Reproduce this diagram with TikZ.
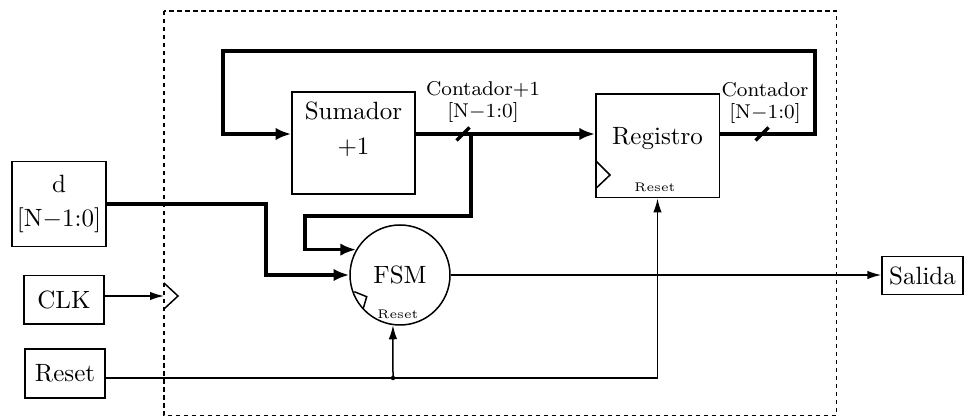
\documentclass[tikz,border=0pt]{standalone}
\usetikzlibrary{arrows.meta}
\begin{document}
\begin{tikzpicture}[x=0.4pt,y=-0.4pt,
  wire/.style={line width=0.6pt},
  bus/.style={line width=1.3pt},
  tip/.style={-{Latex[length=5.6pt,width=3.4pt]}},
  btip/.style={-{Latex[length=6.3pt,width=5pt]}},
  blk/.style={draw,line width=0.6pt,inner sep=0pt,align=center},
  lbl/.style={font=\fontsize{8}{8.8}\selectfont,align=center,inner sep=0pt},
  rstlbl/.style={font=\tiny,inner sep=0pt}]
\useasboundingbox (0,0) rectangle (965,417);
% dashed boundary
\draw[line width=0.5pt,dash pattern=on 1.8pt off 1.4pt] (164,11) rectangle (836.5,415.5);
% blocks
\node[blk,minimum width=37.6pt,minimum height=34pt,font=\fontsize{10}{13.6}\selectfont] (d) at (59,204) {d\\{}[N$-$1:0]};
\node[blk,minimum width=32pt,minimum height=19.4pt] (clk) at (64,300) {CLK};
\node[blk,minimum width=32pt,minimum height=19.6pt] (rst) at (65,373.5) {Reset};
\node[blk,minimum width=49.2pt,minimum height=40.8pt,font=\fontsize{10}{14}\selectfont,text height=10.4pt] (sum) at (353.5,143) {Sumador\\+1};
\node[blk,minimum width=49.4pt,minimum height=41.4pt,text depth=8.3pt] (reg) at (657.5,146) {Registro};
\node[blk,circle,minimum size=40pt] (fsm) at (400,275) {FSM};
\node[blk,minimum width=32.4pt,minimum height=15.2pt] (sal) at (922.5,275.5) {Salida};
% small labels
\node[rstlbl] (regrst) at (655,187) {Reset};
\node[rstlbl] (fsmrst) at (398,314) {Reset};
\node[lbl] (lab1) at (483,102) {Contador+1\\{}[N$-$1:0]};
\node[lbl] (lab2) at (765,102.5) {Contador\\{}[N$-$1:0]};
% clock marks
\draw[wire] (164,283) -- (178,296) -- (164,309);
\draw[wire] (596,161) -- (610,175) -- (596,188.3);
\draw[wire] (354.3,291.7) -- (366.7,296.7) -- (363.3,308.3);
% buses
\coordinate (by) at (0,134);
\coordinate (split) at (471,134);
\draw[bus,btip] (reg.east |- by) -- (815,134) -- (815,51) -- (223,51) -- (223,134) -- (sum.west |- by);
\draw[bus,btip] (sum.east |- by) -- (reg.west |- by);
\draw[bus,btip] (split) |- (305,216) |- (fsm.150);
\draw[bus,btip] (d.east) -- (266,204) |- (fsm.west);
\draw[bus] (463,134) +(-6.5,6.5) -- +(6.5,-6.5);
\draw[bus] (762,134) +(-6.5,6.5) -- +(6.5,-6.5);
% wires
\coordinate (ck) at (164,296);
\coordinate (rj) at (393,378);
\draw[wire,tip] (clk.east |- ck) -- (ck);
\draw[wire,tip] (rst.east |- rj) -| (reg.south);
\fill (rj) circle[radius=0.9pt];
\draw[wire,tip] (rj) -- (fsm.262);
\draw[wire,tip] (fsm.east) -- (fsm.east -| sal.west);
\end{tikzpicture}
\end{document}
